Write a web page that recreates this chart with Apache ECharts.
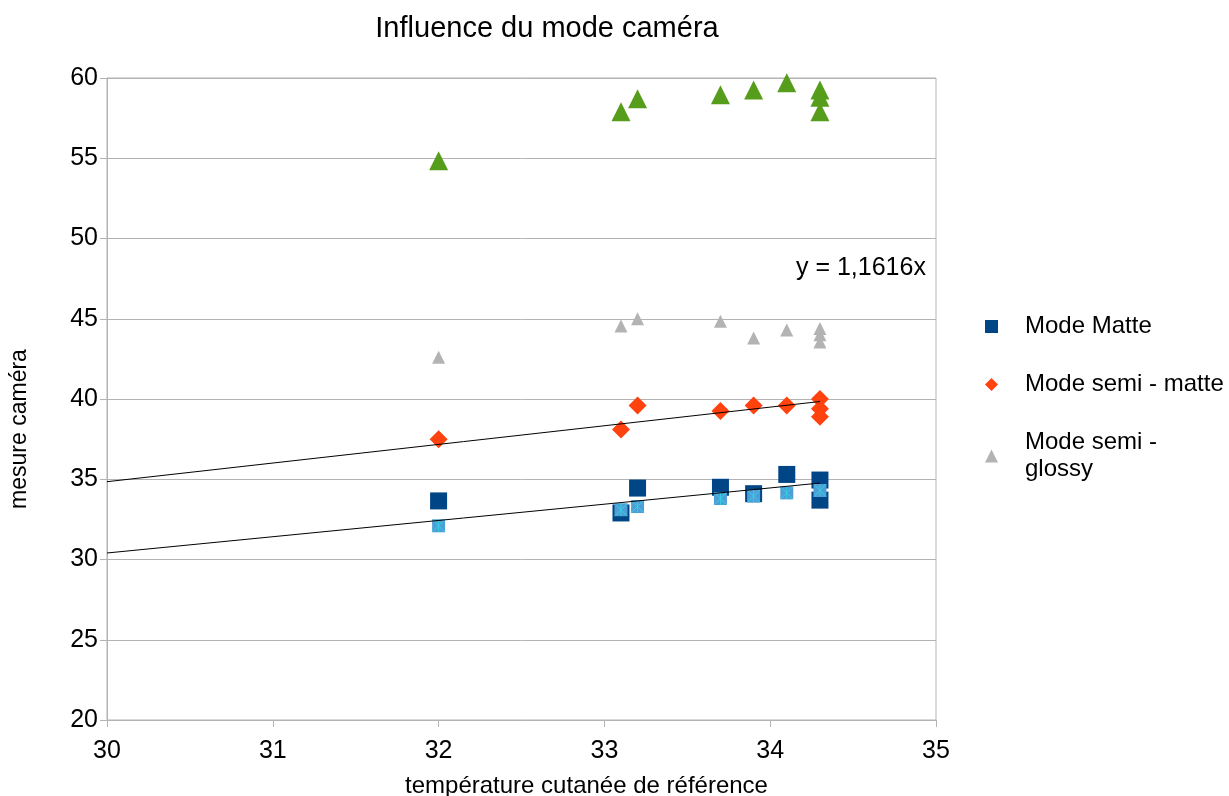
<!DOCTYPE html>
<html>
<head>
<meta charset="utf-8">
<script src="https://cdn.jsdelivr.net/npm/echarts@6/dist/echarts.min.js"></script>
<style>
  html, body { margin: 0; padding: 0; background: #fff; }
  #chart { width: 1229px; height: 796px; }
</style>
</head>
<body>
<div id="chart"></div>
<script>
// températures de référence / mesures caméra
var xMatte = [32, 33.1, 33.2, 33.7, 33.9, 34.1, 34.3, 34.3];
var yMatte = [33.65, 32.9, 34.45, 34.5, 34.1, 35.3, 34.95, 33.7];

var xMatteBis = [32, 33.1, 33.2, 33.7, 33.9, 34.1, 34.3];
var yMatteBis = [32.1, 33.1, 33.3, 33.8, 33.95, 34.15, 34.3];

var xSemiMatte = [32, 33.1, 33.2, 33.7, 33.9, 34.1, 34.3, 34.3, 34.3];
var ySemiMatte = [37.5, 38.1, 39.6, 39.25, 39.6, 39.6, 40.0, 39.4, 38.9];

var xSemiGlossy = [32, 33.1, 33.2, 33.7, 33.9, 34.1, 34.3, 34.3, 34.3];
var ySemiGlossy = [42.6, 44.55, 45.0, 44.85, 43.8, 44.3, 44.4, 44.0, 43.55];

var xGlossy = [32, 33.1, 33.2, 33.7, 33.9, 34.1, 34.3, 34.3, 34.3];
var yGlossy = [54.85, 57.9, 58.7, 58.95, 59.25, 59.7, 59.25, 58.8, 57.9];

// courbes de tendance (y = a x)
var slopeSemiMatte = 1.1616;
var slopeMatte = 1.0135;
var trendRange = [30, 34.3];

function pairs(xs, ys) {
  var out = [];
  for (var i = 0; i < xs.length; i++) {
    out.push([xs[i], ys[i]]);
  }
  return out;
}

function trend(a) {
  return trendRange.map(function (x) { return [x, a * x]; });
}

var font = 'Liberation Sans, Arial, sans-serif';
var chart = echarts.init(document.getElementById('chart'));

var option = {
  animation: false,
  title: {
    text: 'Influence du mode caméra',
    left: 542,
    top: 9,
    textAlign: 'center',
    textStyle: { fontFamily: font, fontSize: 29, fontWeight: 'normal', color: '#000' }
  },
  grid: {
    left: 107, right: 293, top: 78, bottom: 76,
    outerBoundsMode: 'none',
    show: true, borderColor: '#b3b3b3', borderWidth: 1
  },
  legend: {
    orient: 'vertical',
    left: 980,
    top: 308,
    itemGap: 31,
    itemWidth: 13,
    itemHeight: 13,
    data: ['Mode Matte', 'Mode semi - matte', 'Mode semi - glossy'],
    formatter: function (name) {
      return name === 'Mode semi - glossy' ? 'Mode semi -\nglossy' : name;
    },
    textStyle: { fontFamily: font, fontSize: 24, color: '#000', lineHeight: 27, padding: [0, 0, 0, 22] }
  },
  xAxis: {
    type: 'value',
    min: 30, max: 35, interval: 1,
    name: 'température cutanée de référence',
    nameLocation: 'middle',
    nameGap: 54,
    nameTextStyle: { fontFamily: font, fontSize: 24, color: '#000', padding: [0, 0, 0, 130] },
    axisLine: { lineStyle: { color: '#b3b3b3' } },
    axisTick: { show: true, length: 7, lineStyle: { color: '#b3b3b3' } },
    axisLabel: { fontFamily: font, fontSize: 25, color: '#000', margin: 19 },
    splitLine: { show: false }
  },
  yAxis: {
    type: 'value',
    min: 20, max: 60, interval: 5,
    name: 'mesure caméra',
    nameLocation: 'middle',
    nameGap: 76,
    nameTextStyle: { fontFamily: font, fontSize: 23, color: '#000', padding: [0, 60, 0, 0] },
    axisLine: { show: true, lineStyle: { color: '#b3b3b3' } },
    axisTick: { show: true, length: 7, lineStyle: { color: '#b3b3b3' } },
    axisLabel: { fontFamily: font, fontSize: 25, color: '#000', margin: 9 },
    splitLine: { lineStyle: { color: '#b3b3b3' } }
  },
  series: [
    {
      name: 'Mode Matte-trend', type: 'line', data: trend(slopeMatte),
      symbol: 'none', lineStyle: { color: '#000', width: 1 }, z: 5
    },
    {
      name: 'Mode semi - matte-trend', type: 'line', data: trend(slopeSemiMatte),
      symbol: 'none', lineStyle: { color: '#000', width: 1 }, z: 5,
      endLabel: {
        show: true, formatter: 'y = ' + String(slopeSemiMatte).replace('.', ',') + 'x',
        fontFamily: font, fontSize: 25, color: '#000', offset: [-32, -133]
      }
    },
    {
      name: 'Mode semi - glossy', type: 'scatter', data: pairs(xSemiGlossy, ySemiGlossy),
      symbol: 'triangle', symbolSize: 13, itemStyle: { color: '#b3b3b3', opacity: 1 }, z: 2
    },
    {
      name: 'Mode glossy', type: 'scatter', data: pairs(xGlossy, yGlossy),
      symbol: 'triangle', symbolSize: 19, itemStyle: { color: '#579d1c', opacity: 1 }, z: 2
    },
    {
      name: 'Mode semi - matte', type: 'scatter', data: pairs(xSemiMatte, ySemiMatte),
      symbol: 'diamond', symbolSize: 18, itemStyle: { color: '#ff420e', opacity: 1 }, z: 3
    },
    {
      name: 'Mode Matte', type: 'scatter', data: pairs(xMatte, yMatte),
      symbol: 'rect', symbolSize: 17, itemStyle: { color: '#004586', opacity: 1 }, z: 3
    },
    {
      name: 'Mode Matte bis', type: 'scatter', data: pairs(xMatteBis, yMatteBis),
      symbol: 'rect', symbolSize: 13, itemStyle: { color: '#4d9fd6', opacity: 1 }, z: 4
    },
    {
      name: 'Mode Matte bis x', type: 'scatter', data: pairs(xMatteBis, yMatteBis),
      symbol: 'path://M0,0L10,10M10,0L0,10M5,0L5,10', symbolSize: 12,
      itemStyle: { color: 'none', borderColor: '#33d1e6', borderWidth: 1, opacity: 1 }, z: 4
    }
  ]
};

chart.setOption(option);
</script>
</body>
</html>
